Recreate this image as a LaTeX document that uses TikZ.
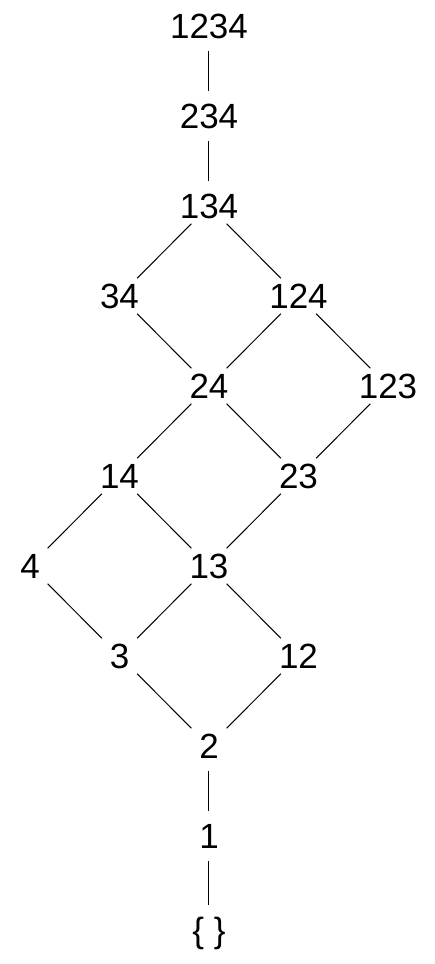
\documentclass[tikz,border=0pt]{standalone}
\usepackage{fontspec}
\setmainfont{Liberation Sans}
\usepackage{tikz}
\usetikzlibrary{
    positioning
}

\begin{document}
\begin{tikzpicture}[
    on grid,
    node distance=90pt and 89.5pt,
    set/.style={font=\fontsize{35}{40}\selectfont, inner sep=0pt},
    link/.style={line width=1pt, shorten <=25pt, shorten >=25pt}
]
\useasboundingbox (-209pt,26pt) rectangle (225pt,-938pt);

% Top chain
\node[set] (n1234) {1234};
\node[set, below=of n1234] (n234) {234};
\node[set, below=of n234] (n134) {134};

% Lattice body
\node[set, below left=of n134] (n34) {34};
\node[set, below right=of n134] (n124) {124};
\node[set, below right=of n34] (n24) {24};
\node[set, below right=of n124] (n123) {123};
\node[set, below left=of n24] (n14) {14};
\node[set, below right=of n24] (n23) {23};
\node[set, below left=of n14] (n4) {4};
\node[set, below right=of n14] (n13) {13};
\node[set, below right=of n4] (n3) {3};
\node[set, below right=of n13] (n12) {12};
\node[set, below right=of n3] (n2) {2};

% Bottom chain
\node[set, below=of n2] (n1) {1};
\node[set, below=of n1, text height=25pt, text depth=0pt, yshift=-4pt] (nempty) {\{ \}};

\draw[link] (n1234.center) -- (n234.center);
\draw[link] (n234.center) -- (n134.center);
\draw[link] (n134.center) -- (n34.center);
\draw[link] (n134.center) -- (n124.center);
\draw[link] (n34.center) -- (n24.center);
\draw[link] (n124.center) -- (n24.center);
\draw[link] (n124.center) -- (n123.center);
\draw[link] (n24.center) -- (n14.center);
\draw[link] (n24.center) -- (n23.center);
\draw[link] (n123.center) -- (n23.center);
\draw[link] (n14.center) -- (n4.center);
\draw[link] (n14.center) -- (n13.center);
\draw[link] (n23.center) -- (n13.center);
\draw[link] (n4.center) -- (n3.center);
\draw[link] (n13.center) -- (n3.center);
\draw[link] (n13.center) -- (n12.center);
\draw[link] (n3.center) -- (n2.center);
\draw[link] (n12.center) -- (n2.center);
\draw[link] (n2.center) -- (n1.center);
\draw[link] (n1.center) -- (nempty.center);

\end{tikzpicture}
\end{document}
